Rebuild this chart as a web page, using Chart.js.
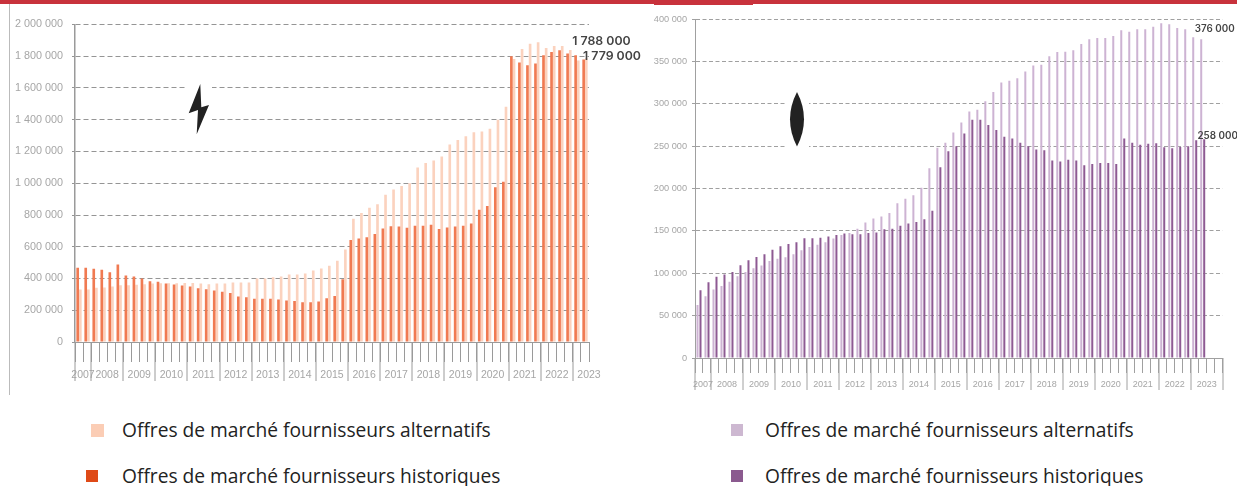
<!DOCTYPE html>
<html lang="fr">
<head>
<meta charset="utf-8">
<title>Offres de marché</title>
<script src="https://cdn.jsdelivr.net/npm/chart.js@4"></script>
<style>
  html, body { margin: 0; padding: 0; background: #fff; }
  #page { position: relative; width: 1237px; height: 486px; overflow: hidden; }
  #page canvas, #page svg, .box { position: absolute; }
  .legend { position: absolute; left: 0; font: 19.2px "Open Sans", Arial, sans-serif; color: #222; white-space: nowrap; line-height: 22px; }
</style>
</head>
<body>
<div id="page">
  <div class="box" style="left:0;top:0;width:1237px;height:4px;background:#c8323c"></div>
  <div class="box" style="left:654px;top:0;width:99px;height:5px;background:#c8323c"></div>
  <div class="box" style="left:9px;top:4px;width:1px;height:391px;background:#bbb"></div>

  <canvas id="chartElec" width="645" height="400" style="left:0;top:0"></canvas>
  <canvas id="chartGaz" width="587" height="400" style="left:650px;top:0"></canvas>

  <!-- pictos : eclair (electricite) et goutte (gaz) -->
  <svg style="left:186px;top:82px" width="26" height="54" viewBox="186 82 26 54">
    <rect x="186" y="82" width="26" height="54" fill="#fff"/>
    <path d="M200.3 84 L188.7 113.3 L198 110 L196.7 134.3 L209 105 L201.3 107.3 Z" fill="#222"/>
  </svg>
  <svg style="left:786px;top:90px" width="23" height="58" viewBox="786 90 23 58">
    <rect x="786" y="90" width="23" height="58" fill="#fff"/>
    <path d="M797 92 Q811 119 797 146.5 Q783 119 797 92 Z" fill="#222"/>
  </svg>

  <div class="box" style="left:91px;top:424px;width:13px;height:13px;background:#fbcdb5"></div>
  <div class="legend" style="left:122px;top:419px">Offres de marché fournisseurs alternatifs</div>
  <div class="box" style="left:86px;top:470px;width:12px;height:12px;background:#df4a17"></div>
  <div class="legend" style="left:122px;top:465px">Offres de marché fournisseurs historiques</div>

  <div class="box" style="left:731px;top:424px;width:12px;height:12px;background:#cdb8d1"></div>
  <div class="legend" style="left:765px;top:419px">Offres de marché fournisseurs alternatifs</div>
  <div class="box" style="left:731px;top:470px;width:12px;height:12px;background:#8b5a8f"></div>
  <div class="legend" style="left:765px;top:465px">Offres de marché fournisseurs historiques</div>
</div>

<script>
// labels des axes : une entree par trimestre, l'annee est posee sur un seul trimestre
var labelsElec = ["2007", "", "", "2008", "", "", "", "2009", "", "", "", "2010", "", "", "", "2011",
  "", "", "", "2012", "", "", "", "2013", "", "", "", "2014", "", "", "", "2015",
  "", "", "", "2016", "", "", "", "2017", "", "", "", "2018", "", "", "", "2019",
  "", "", "", "2020", "", "", "", "2021", "", "", "", "2022", "", "", "", "2023"];
var labelsGaz = labelsElec.concat(["", ""]);

// electricite (milliers de sites)
var elecHistoriques = [467, 467, 461, 455, 440, 488, 419, 412, 400, 383, 379, 368, 362, 356, 349, 339,
  333, 324, 316, 309, 286, 282, 272, 272, 272, 267, 261, 259, 250, 250, 255, 276,
  290, 396, 642, 652, 660, 680, 715, 729, 727, 719, 733, 733, 738, 712, 721, 727,
  733, 746, 833, 856, 975, 1010, 1800, 1760, 1744, 1754, 1806, 1827, 1838, 1817, 1806, 1779];
var elecAlternatifs = [330, 330, 341, 343, 349, 358, 358, 360, 364, 368, 370, 370, 370, 372, 372, 368,
  364, 368, 368, 375, 375, 375, 400, 400, 408, 412, 425, 425, 431, 450, 463, 480,
  512, 583, 777, 812, 846, 867, 927, 960, 983, 1000, 1100, 1127, 1144, 1169, 1244, 1273,
  1296, 1321, 1326, 1344, 1400, 1482, 1783, 1846, 1879, 1888, 1852, 1865, 1865, 1840, 1773, 1788];

// gaz (milliers de sites)
var gazAlternatifs = [62.6, 72.8, 80.7, 85, 90, 96.5, 101.6, 106, 109, 114.6, 117, 119, 122.4, 127, 131, 133.5,
  136.6, 141, 145, 147.6, 152.4, 160, 164.6, 167, 171, 182.7, 188, 192, 201, 224, 248, 254,
  266, 278, 291, 293, 303, 314, 325, 327, 330, 338, 345, 346, 356, 361, 361.5, 363,
  370.6, 376, 377.6, 377.6, 380, 386.7, 385, 388, 388, 391, 395, 393.7, 389.4, 388, 378.4, 376];
var gazHistoriques = [80, 89.4, 96, 98.4, 101.6, 109.4, 115.4, 119.3, 122.4, 127.6, 132, 134.6, 136.6, 141.3, 141.3, 142,
  143.3, 145, 147, 146, 146, 147.6, 148, 152, 152.4, 156, 158.6, 160.6, 163.8, 173.6, 225, 244,
  250, 265, 281, 281, 275, 269, 261, 259, 254, 250, 246, 245, 233, 232, 234, 233,
  227.5, 229, 230, 230, 229, 259, 254, 251.5, 252.7, 253.4, 248.7, 247.6, 249, 250, 257, 258];

function milliers(v) {
  return String(Math.round(v)).replace(/\B(?=(\d{3})+$)/g, " ");
}

function enMilliers(list) {
  return list.map(function (v) { return v * 1000; });
}

// prolonge les graduations d'annee sous les petites graduations de l'axe
var longTicks = {
  id: "longTicks",
  afterDraw: function (chart, args, opts) {
    var x = chart.scales.x, ctx = chart.ctx;
    var band = x.width / x.ticks.length;
    ctx.save();
    ctx.strokeStyle = opts.color;
    ctx.lineWidth = 1;
    opts.indexes.forEach(function (i) {
      var px = Math.round(x.left + i * band);
      ctx.beginPath();
      ctx.moveTo(px, x.top);
      ctx.lineTo(px, x.top + opts.length);
      ctx.stroke();
    });
    ctx.restore();
  }
};

// valeurs finales ecrites a cote des dernieres barres
var endLabels = {
  id: "endLabels",
  afterDatasetsDraw: function (chart, args, opts) {
    var ctx = chart.ctx;
    ctx.save();
    ctx.font = opts.font;
    ctx.fillStyle = "#444";
    ctx.textAlign = "center";
    ctx.textBaseline = "middle";
    opts.items.forEach(function (it) {
      var data = chart.data.datasets[it.dataset].data;
      var last = data.length - 1;
      var px = chart.scales.x.getPixelForValue(last) + it.dx;
      var py = chart.scales.y.getPixelForValue(data[last]) + it.dy;
      ctx.fillText(milliers(data[last]), px, py);
    });
    ctx.restore();
  }
};

function yearTicks(extra) {
  var list = [0];
  for (var i = 2; i <= 62; i += 4) list.push(i);
  return list.concat(extra);
}

function drawChart(id, c) {
  return new Chart(document.getElementById(id), {
    type: "bar",
    data: { labels: c.labels, datasets: c.datasets },
    plugins: [longTicks, endLabels],
    options: {
      responsive: false,
      animation: false,
      layout: { padding: c.padding },
      datasets: { bar: { barPercentage: c.barPct, categoryPercentage: c.catPct } },
      plugins: {
        legend: { display: false },
        tooltip: { enabled: false },
        longTicks: { indexes: c.years, length: c.longLength, color: c.axisColor },
        endLabels: { font: c.endFont, items: c.endItems }
      },
      scales: {
        x: {
          afterFit: function (scale) { scale.height = c.xHeight; },
          grid: {
            offset: true,
            drawOnChartArea: false,
            tickLength: c.shortLength,
            tickColor: c.axisColor,
            tickWidth: 1
          },
          border: { color: c.axisColor, width: 1 },
          ticks: {
            autoSkip: false,
            maxRotation: 0,
            minRotation: 0,
            labelOffset: 4,
            padding: c.xPadding,
            color: "#a6a6a6",
            font: { family: "Liberation Sans", size: c.xFont }
          }
        },
        y: {
          min: 0,
          max: c.yMax,
          afterFit: function (scale) { scale.width = c.yWidth; },
          grid: {
            color: c.gridColor,
            tickColor: c.gridColor,
            tickLength: 3,
            tickBorderDash: c.dash
          },
          border: { color: c.axisColor, width: c.yBorder, dash: c.dash },
          ticks: {
            stepSize: c.yStep,
            padding: c.yPadding,
            color: "#a6a6a6",
            font: { family: "Liberation Sans", size: c.yFont },
            callback: function (v) { return milliers(v); }
          }
        }
      }
    }
  });
}

drawChart("chartElec", {
  labels: labelsElec,
  datasets: [
    { label: "Offres de marché fournisseurs historiques", data: enMilliers(elecHistoriques), backgroundColor: "#f07a52" },
    { label: "Offres de marché fournisseurs alternatifs", data: enMilliers(elecAlternatifs), backgroundColor: "#fbd2be" }
  ],
  padding: { top: 24.5, right: 56, left: 0, bottom: 0 },
  barPct: 1, catPct: 0.66,
  years: yearTicks([]),
  longLength: 39, shortLength: 20,
  axisColor: "#9a9a9a", gridColor: "#959595", dash: [5, 3],
  xHeight: 58, xPadding: 7, xFont: 10.5,
  yMax: 2000000, yStep: 200000, yWidth: 75, yBorder: 1.5, yPadding: 9, yFont: 10.8,
  endFont: "600 12.3px Inter",
  endItems: [{ dataset: 1, dx: 16.5, dy: -17 }, { dataset: 0, dx: 27, dy: -3.5 }]
});

drawChart("chartGaz", {
  labels: labelsGaz,
  datasets: [
    { label: "Offres de marché fournisseurs alternatifs", data: enMilliers(gazAlternatifs), backgroundColor: "#cdb3d3" },
    { label: "Offres de marché fournisseurs historiques", data: enMilliers(gazHistoriques), backgroundColor: "#8e5a93" }
  ],
  padding: { top: 19, right: 14.3, left: 0, bottom: 0 },
  barPct: 0.67, catPct: 0.75,
  years: yearTicks([66]),
  longLength: 32, shortLength: 15,
  axisColor: "#a0a0a0", gridColor: "#a0a0a0", dash: [4, 2.5],
  xHeight: 42, xPadding: 6, xFont: 9,
  yMax: 400000, yStep: 50000, yWidth: 45, yBorder: 1, yPadding: 5, yFont: 9.2,
  endFont: "600 9.8px Inter",
  endItems: [{ dataset: 0, dx: 12, dy: -10 }, { dataset: 1, dx: 15, dy: -3 }]
});
</script>
</body>
</html>
